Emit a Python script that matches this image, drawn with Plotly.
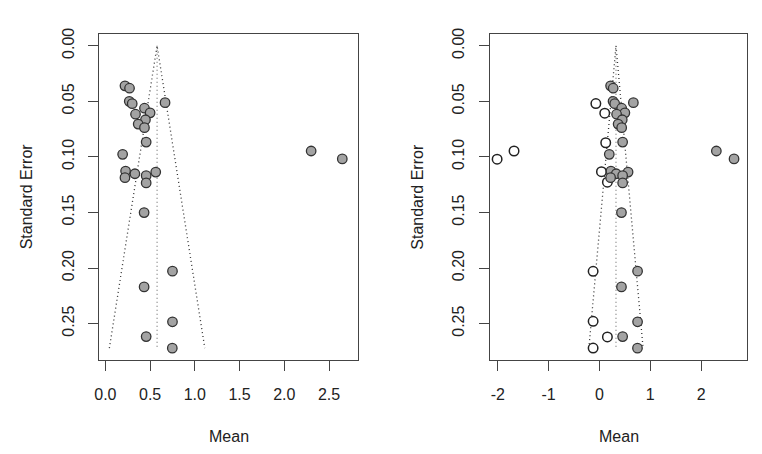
import plotly.graph_objects as go
from plotly.subplots import make_subplots

# observed studies (both panels)
obs_mean = [0.219, 0.270, 0.267, 0.300, 0.667, 0.437, 0.500, 0.337, 0.448, 0.367,
            0.437, 0.456, 0.193, 2.300, 2.648, 0.226, 0.330, 0.563, 0.219, 0.456,
            0.456, 0.433, 0.750, 0.433, 0.750, 0.456, 0.748]
obs_se = [0.0361, 0.0382, 0.0500, 0.0521, 0.0512, 0.0562, 0.0604, 0.0616, 0.0666, 0.0705,
          0.0737, 0.0867, 0.0977, 0.0947, 0.1018, 0.1128, 0.1152, 0.1137, 0.1187, 0.1169,
          0.1234, 0.1501, 0.2028, 0.2170, 0.2484, 0.2617, 0.2721]

# imputed studies (trim and fill, right panel)
fill_mean = [-2.014, -1.681, -0.071, 0.104, 0.123, 0.039, 0.156, -0.125, -0.125, 0.156, -0.125]
fill_se = [0.1021, 0.0947, 0.0520, 0.0607, 0.0873, 0.1133, 0.1228, 0.2030, 0.2480, 0.2620, 0.2720]

# pooled estimates (funnel centres)
est_left = 0.578
est_right = 0.325

x1_ticks = [0, 0.5, 1, 1.5, 2, 2.5]
x1_labels = ["0.0", "0.5", "1.0", "1.5", "2.0", "2.5"]
x2_ticks = [-2, -1, 0, 1, 2]
x2_labels = ["-2", "-1", "0", "1", "2"]
y_ticks = [0, 0.05, 0.10, 0.15, 0.20, 0.25]
y_labels = ["0.00", "0.05", "0.10", "0.15", "0.20", "0.25"]

W, H = 762, 454
se_max = max(obs_se)

fig = make_subplots(rows=1, cols=2)


def add_funnel(est, col):
    lo = est - 1.96 * se_max
    hi = est + 1.96 * se_max
    fig.add_trace(go.Scatter(x=[lo, est, hi], y=[se_max, 0, se_max], mode="lines",
                             line=dict(color="#333333", width=1.3, dash="1px,3px"),
                             hoverinfo="skip", showlegend=False), row=1, col=col)
    fig.add_trace(go.Scatter(x=[est, est], y=[0, se_max], mode="lines",
                             line=dict(color="#777777", width=1.2, dash="1px,3px"),
                             hoverinfo="skip", showlegend=False), row=1, col=col)


filled = dict(size=9.5, color="#a3a3a3", line=dict(color="#333333", width=1.3))
hollow = dict(size=9.5, color="white", line=dict(color="#222222", width=1.5))

add_funnel(est_left, 1)
fig.add_trace(go.Scatter(x=obs_mean, y=obs_se, mode="markers", marker=filled,
                         showlegend=False), row=1, col=1)

add_funnel(est_right, 2)
fig.add_trace(go.Scatter(x=fill_mean, y=fill_se, mode="markers", marker=hollow,
                         showlegend=False), row=1, col=2)
fig.add_trace(go.Scatter(x=obs_mean, y=obs_se, mode="markers", marker=filled,
                         showlegend=False), row=1, col=2)

font = dict(family="Liberation Sans, Arial, sans-serif", size=16, color="#222222")
axis_common = dict(showline=True, mirror=True, linecolor="#444444", linewidth=1,
                   ticks="outside", ticklen=10, tickcolor="#444444", tickwidth=1,
                   showgrid=False, zeroline=False, tickfont=font)

ydom = [1 - 359 / H, 1 - 28 / H]
fig.update_layout(
    width=W, height=H,
    margin=dict(l=0, r=0, t=0, b=0),
    paper_bgcolor="white", plot_bgcolor="white",
    font=font,
    xaxis=dict(domain=[95 / W, 355 / W], range=[-0.067, 2.82],
               tickvals=x1_ticks, ticktext=x1_labels, ticklabelstandoff=10, **axis_common),
    xaxis2=dict(domain=[488 / W, 747 / W], range=[-2.158, 2.905],
                tickvals=x2_ticks, ticktext=x2_labels, ticklabelstandoff=10, **axis_common),
    yaxis=dict(domain=ydom, range=[0.283, -0.0109], tickvals=y_ticks, ticktext=y_labels,
               tickangle=-90, ticklabelstandoff=8, **axis_common),
    yaxis2=dict(domain=ydom, range=[0.283, -0.0109], tickvals=y_ticks, ticktext=y_labels,
                tickangle=-90, ticklabelstandoff=8, **axis_common),
)

for cx in [225, 618]:
    fig.add_annotation(text="Mean", x=cx / W, y=1 - 436 / H, xref="paper", yref="paper",
                       showarrow=False, font=font, xanchor="center", yanchor="middle")
for cx in [22, 415]:
    fig.add_annotation(text="Standard Error", x=cx / W, y=1 - 193 / H, xref="paper",
                       yref="paper", showarrow=False, font=font, textangle=-90,
                       xanchor="center", yanchor="middle")

# drop the default page margin so the figure sits at the window's corner
fig.write_html("out.html", config={"displayModeBar": False},
               post_script="document.body.style.margin='0px';")
